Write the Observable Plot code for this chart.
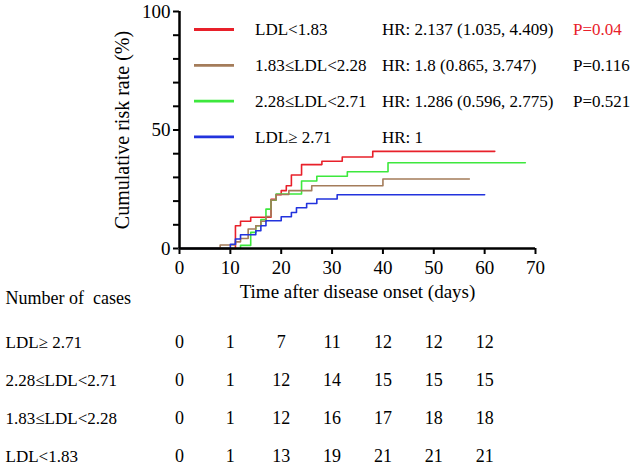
<!DOCTYPE html>
<html><head><meta charset="utf-8">
<script src="https://cdn.jsdelivr.net/npm/d3@7"></script>
<script src="https://cdn.jsdelivr.net/npm/@observablehq/plot@0.6"></script>
<style>
html,body{margin:0;padding:0;background:#fff;}
#chart{width:630px;height:467px;position:relative;overflow:hidden;background:#fff;}
#chart svg{display:block;}
</style></head><body><div id="chart"></div>
<script>
// ---- data ----
const groups = ["LDL<1.83", "1.83≤LDL<2.28", "2.28≤LDL<2.71", "LDL≥ 2.71"];
const colors = ["#e8202a", "#a47c5a", "#3de83d", "#2233dd"];
const hrLabels = ["HR: 2.137 (1.035, 4.409)", "HR: 1.8 (0.865, 3.747)", "HR: 1.286 (0.596, 2.775)", "HR: 1"];
const pLabels = ["P=0.04", "P=0.116", "P=0.521", ""];

const redT = [0, 11, 12, 14, 18, 19, 20, 21, 22, 24, 28, 32, 38, 62];
const redV = [0, 9.6, 11.5, 13.2, 20.8, 22.7, 24.4, 26.5, 31, 35.4, 36.8, 38.6, 41, 41];
const brownT = [0, 8, 11, 12, 13.5, 15, 16, 17, 18, 19, 21.5, 26, 40, 57];
const brownV = [0, 1.5, 2.8, 4.2, 8.2, 9.6, 11.5, 13.5, 20.5, 22.8, 24.4, 26.5, 29.3, 29.3];
const greenT = [0, 12, 14, 15, 16, 17, 18, 19, 24, 27, 33, 41, 68];
const greenV = [0, 1.3, 6.8, 9.6, 12.2, 16.6, 20.4, 23, 28.5, 30.5, 32.4, 36.2, 36.2];
const blueT = [0, 10, 11, 12, 15, 16, 17, 20, 22, 23, 25, 27, 31, 60];
const blueV = [0, 1.8, 4, 5.8, 7.5, 9.6, 11.7, 13.4, 15.2, 17.2, 19, 20.9, 22.7, 22.7];

const xTicks = [0, 10, 20, 30, 40, 50, 60, 70];
const yTicks = [0, 10, 20, 30, 40, 50, 60, 70, 80, 90, 100];
const yLabels = [0, 50, 100];
const xTitle = "Time after disease onset (days)";
const yTitle = "Cumulative risk rate (%)";
const tableHeader = "Number of  cases";
const tableDays = [0, 10, 20, 30, 40, 50, 60];
const tableRows = ["LDL≥ 2.71", "2.28≤LDL<2.71", "1.83≤LDL<2.28", "LDL<1.83"];
const countsHigh = [0, 1, 7, 11, 12, 12, 12];
const countsMid2 = [0, 1, 12, 14, 15, 15, 15];
const countsMid1 = [0, 1, 12, 16, 17, 18, 18];
const countsLow = [0, 1, 13, 19, 21, 21, 21];

// ---- build tables ----
const seriesT = [redT, brownT, greenT, blueT];
const seriesV = [redV, brownV, greenV, blueV];
const series = [];
groups.forEach((g, i) => seriesT[i].forEach((t, j) => series.push({g, t, v: seriesV[i][j]})));
const drawOrder = [0, 2, 1, 3];
const seriesOrdered = drawOrder.flatMap(i => series.filter(d => d.g === groups[i]));

const countRows = [countsHigh, countsMid2, countsMid1, countsLow];
const tableData = [];
tableRows.forEach((r, i) => tableDays.forEach((d, j) => tableData.push({row: r, day: d, n: String(countRows[i][j])})));

const fontFamily = '"Liberation Serif", "Times New Roman", serif';

const main = Plot.plot({
  width: 630, height: 320,
  marginLeft: 179, marginRight: 95, marginTop: 11, marginBottom: 72,
  style: {fontFamily, fontSize: "19px", color: "#000", background: "#fff", overflow: "visible"},
  x: {domain: [0, 70]},
  y: {domain: [0, 100]},
  color: {domain: groups, range: colors},
  marks: [
    Plot.axisX({ticks: xTicks, tickSize: 6, tickPadding: 6, strokeWidth: 2, label: null, fontSize: 19}),
    Plot.axisY({ticks: yTicks, tickFormat: d => yLabels.includes(d) ? String(d) : "", tickSize: 6, tickPadding: 3, strokeWidth: 2, label: null, fontSize: 19}),
    Plot.line(seriesOrdered, {x: "t", y: "v", z: "g", stroke: "g", curve: "step-after", strokeWidth: 1.6}),
    Plot.ruleX([0], {strokeWidth: 2.5}),
    Plot.ruleY([0], {strokeWidth: 2.5}),
    Plot.text([xTitle], {frameAnchor: "bottom", dy: 49, fontSize: 19}),
    Plot.text([yTitle], {frameAnchor: "left", dx: -57, rotate: -90, textAnchor: "middle", fontSize: 20}),
    Plot.text([tableHeader], {frameAnchor: "bottom-left", dx: -174, dy: 55, textAnchor: "start", fontSize: 18})
  ]
});

// legend
const legendY0 = 29.5, legendStep = 35.8;
const lg = d3.select(main).append("g").attr("font-family", fontFamily).attr("font-size", 17).attr("text-anchor", "start");
groups.forEach((g, i) => {
  const y = legendY0 + i * legendStep;
  lg.append("line").attr("x1", 194).attr("x2", 234).attr("y1", y).attr("y2", y)
    .attr("stroke", colors[i]).attr("stroke-width", 2.8);
  lg.append("text").attr("x", 255).attr("y", y).attr("dy", "0.35em").text(g);
  lg.append("text").attr("x", 382).attr("y", y).attr("dy", "0.35em").text(hrLabels[i]);
  if (pLabels[i]) lg.append("text").attr("x", 573).attr("y", y).attr("dy", "0.35em")
    .attr("fill", i === 0 ? "#e8202a" : "#000").text(pLabels[i]);
});

const table = Plot.plot({
  width: 630, height: 147,
  marginLeft: 179, marginRight: 95, marginTop: 21, marginBottom: 11,
  style: {fontFamily, fontSize: "18px", color: "#000", background: "#fff", overflow: "visible"},
  x: {domain: [0, 70], axis: null},
  y: {type: "point", domain: tableRows, padding: 0, axis: null},
  marks: [
    Plot.text(tableData, {x: "day", y: "row", text: "n", fontSize: 18}),
    Plot.text(tableRows, {y: d => d, text: d => d, frameAnchor: "left", dx: -174, textAnchor: "start", fontSize: 17})
  ]
});

const el = document.getElementById("chart");
el.appendChild(main);
el.appendChild(table);
</script></body></html>
